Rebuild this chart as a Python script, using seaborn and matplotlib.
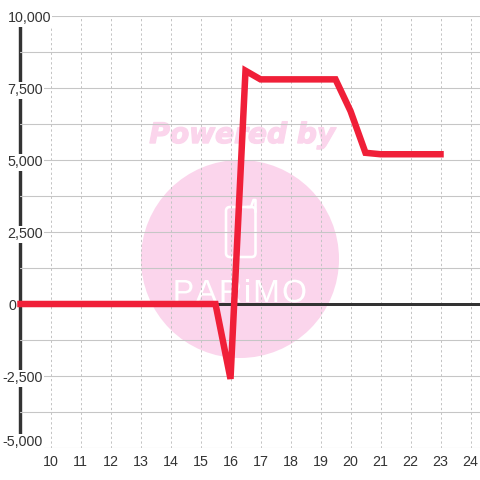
import matplotlib
matplotlib.use("Agg")
import matplotlib.pyplot as plt
import matplotlib.patheffects as pe
from matplotlib.patches import Circle, FancyBboxPatch
from matplotlib.lines import Line2D
from matplotlib.transforms import IdentityTransform, ScaledTranslation
import pandas as pd
import seaborn as sns

hours = [9, 10, 11, 12, 13, 14, 15, 15.5, 16, 16.5, 17, 18, 19, 19.5, 20, 20.5, 21, 22, 23]
values = [0, 0, 0, 0, 0, 0, 0, 0, -2600, 8100, 7800, 7800, 7800, 7800, 6700, 5250, 5200, 5200, 5200]
x_ticks = list(range(10, 25))
y_ticks = [-5000, -2500, 0, 2500, 5000, 7500, 10000]
y_labels = ["-5,000", "-2,500", "0", "2,500", "5,000", "7,500", "10,000"]
y_minor = [-3750, -1250, 1250, 3750, 6250, 8750]
wm_title = "Powered by"
wm_letters = ["P", "A", "R", "i", "M", "O"]

sns.set_theme(style="white")
plt.rcParams["font.family"] = ["Liberation Sans", "DejaVu Sans"]

fig = plt.figure(figsize=(4.8, 4.8), dpi=100, facecolor="white")
ax = fig.add_axes([20 / 480, 32 / 480, 460 / 480, 432 / 480])
PX = 72 / 100


def P(x, y):
    return (x, 480 - y)


identity = IdentityTransform()
pink = "#fbd5ec"

# watermark
ax.add_patch(Circle(P(240, 259), 99, transform=identity, fc=pink, ec="none", zorder=0.1, clip_on=False))
ax.text(*P(242, 143), wm_title, transform=identity, color=pink, fontsize=20.2, weight="bold", style="italic",
        family="DejaVu Sans", ha="center", va="baseline", zorder=0.1,
        path_effects=[pe.withStroke(linewidth=1.0, foreground=pink)])
ax.add_patch(FancyBboxPatch(P(226, 257), 29.5, 50, boxstyle="round,pad=0,rounding_size=4", transform=identity,
                            fc="none", ec="white", lw=2.6 * PX, zorder=0.12, clip_on=False))
ax.add_line(Line2D([247, 251, 253.5, 255.5, 255.5], [480 - 207, 480 - 207, 480 - 200, 480 - 200, 480 - 212],
                   transform=identity, color="white", lw=2.6 * PX, zorder=0.12, clip_on=False))
for cx, letter in zip([183.5, 206.5, 230.5, 247.5, 266.5, 294.5], wm_letters):
    ax.text(*P(cx, 302), letter, transform=identity, color="white", fontsize=23,
            family="Liberation Sans", ha="center", va="baseline", zorder=0.12,
            path_effects=[pe.withStroke(linewidth=0.6, foreground=pink)])

df = pd.DataFrame({"hour": hours, "value": values})
sns.lineplot(data=df, x="hour", y="value", ax=ax, color="#f01f38", linewidth=6.5 * PX, zorder=3, errorbar=None,
             solid_joinstyle="miter", solid_capstyle="projecting", clip_on=False)

ax.set_xlim(10 - 30.5 / 30, 10 + 429.5 / 30)
ax.set_ylim(-5000, 10000)
ax.set_xlabel("")
ax.set_ylabel("")
ax.set_xticks(x_ticks)
ax.set_yticks(y_ticks, y_labels)
ax.set_yticks(y_minor, minor=True)
ax.set_axisbelow(True)
ax.grid(True, axis="y", which="both", color="#c6c6c6", lw=1.1 * PX, linestyle="-")
ax.grid(True, axis="x", which="major", color="#c4c4c4", lw=1 * PX, linestyle=(0, (2.3, 2.5)))
ax.tick_params(axis="both", which="both", length=0)
ax.tick_params(axis="x", pad=5, labelsize=10.3, labelcolor="#333333")
ax.tick_params(axis="y", pad=-23 * PX, labelsize=10.3, labelcolor="#333333")

for s in ["top", "right", "bottom"]:
    ax.spines[s].set_visible(False)
ax.spines["left"].set_color("#333333")
ax.spines["left"].set_linewidth(3.4 * PX)
ax.spines["left"].set_zorder(0.4)
ax.axhline(0, color="#333333", lw=3 * PX, zorder=1)

label_shift = {"10,000": (8, -1), "-5,000": (0, 7), "0": (-27, -0.5)}
for lab in ax.get_yticklabels():
    text = lab.get_text()
    dx, dy = label_shift.get(text, (0, -1))
    if text != "0":
        lab.set_bbox(dict(fc="white", ec="none", pad=1))
    lab.set_transform(lab.get_transform() + ScaledTranslation(dx * PX / 72, dy * PX / 72, fig.dpi_scale_trans))

fig.savefig("out.png", dpi=100)
